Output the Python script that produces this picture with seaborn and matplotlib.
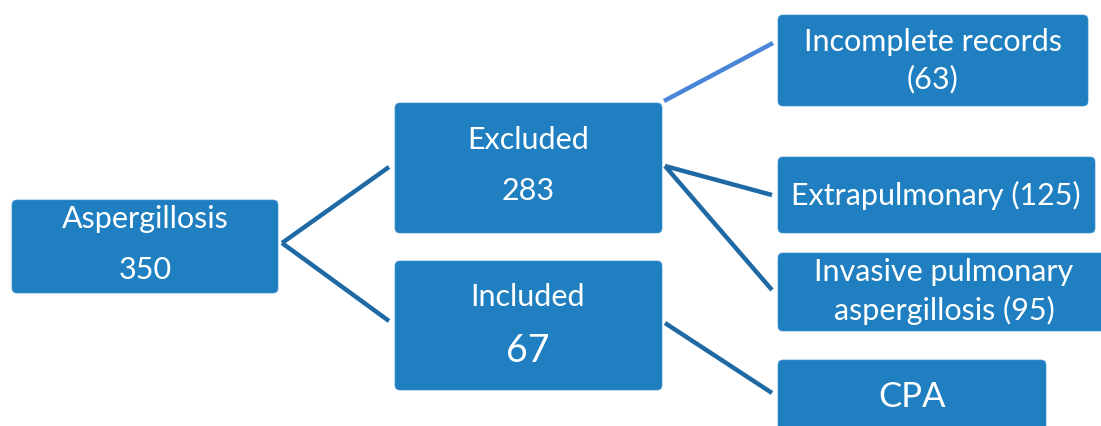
import matplotlib.pyplot as plt
from matplotlib.patches import FancyBboxPatch
import seaborn as sns

sns.set_theme(style="white")
plt.rcParams['font.family'] = ['Lato', 'DejaVu Sans']

# boxes: left, top, right, bottom (pixel space of the 1101x426 canvas)
box_names = ["asp", "exc", "inc", "incomplete", "extra", "invasive", "cpa"]
box_left = [12, 395, 395, 778, 778, 778, 778]
box_top = [200, 103, 261, 15, 157, 253, 360]
box_right = [278, 662, 662, 1088, 1095, 1108, 1046]
box_bottom = [293, 233, 390, 106, 233, 331, 440]

# text labels
label_x = [145, 145, 528, 528, 528, 528, 933, 933, 936, 944, 944, 912]
label_y = [219, 270, 140, 191, 297, 351, 42, 79, 195, 272, 310, 397]
label_text = ["Aspergillosis", "350", "Excluded", "283", "Included", "67",
              "Incomplete records", "(63)", "Extrapulmonary (125)",
              "Invasive pulmonary", "aspergillosis (95)", "CPA"]
label_size = [22, 22, 22, 22, 22, 27, 22, 22, 22, 22, 22, 25]

# connectors
link_x0 = [282, 282, 664, 665, 665, 665]
link_y0 = [243, 243, 101, 166, 166, 323]
link_x1 = [389, 389, 773, 772, 772, 772]
link_y1 = [167, 321, 43, 195, 290, 393]
link_color = ["#1f6aa5", "#1f6aa5", "#4a86d8", "#1f6aa5", "#1f6aa5", "#1f6aa5"]

box_color = "#1f7fc0"

fig, ax = plt.subplots(figsize=(11.01, 4.26), dpi=100)
fig.subplots_adjust(0, 0, 1, 1)
ax.set_xlim(0, 1101)
ax.set_ylim(426, 0)
ax.axis("off")

for x0, y0, x1, y1, c in zip(link_x0, link_y0, link_x1, link_y1, link_color):
    ax.plot([x0, x1], [y0, y1], color=c, lw=3.2, solid_capstyle="butt")

for l, t, r, b in zip(box_left, box_top, box_right, box_bottom):
    ax.add_patch(FancyBboxPatch((l + 5, t + 5), r - l - 10, b - t - 10,
                                boxstyle="round,pad=5",
                                facecolor=box_color, edgecolor="#3f93cf", lw=0.5))

for x, y, s, fs in zip(label_x, label_y, label_text, label_size):
    ax.text(x, y, s, color="white", fontsize=fs, ha="center", va="center")

fig.savefig("out.png", dpi=100)
